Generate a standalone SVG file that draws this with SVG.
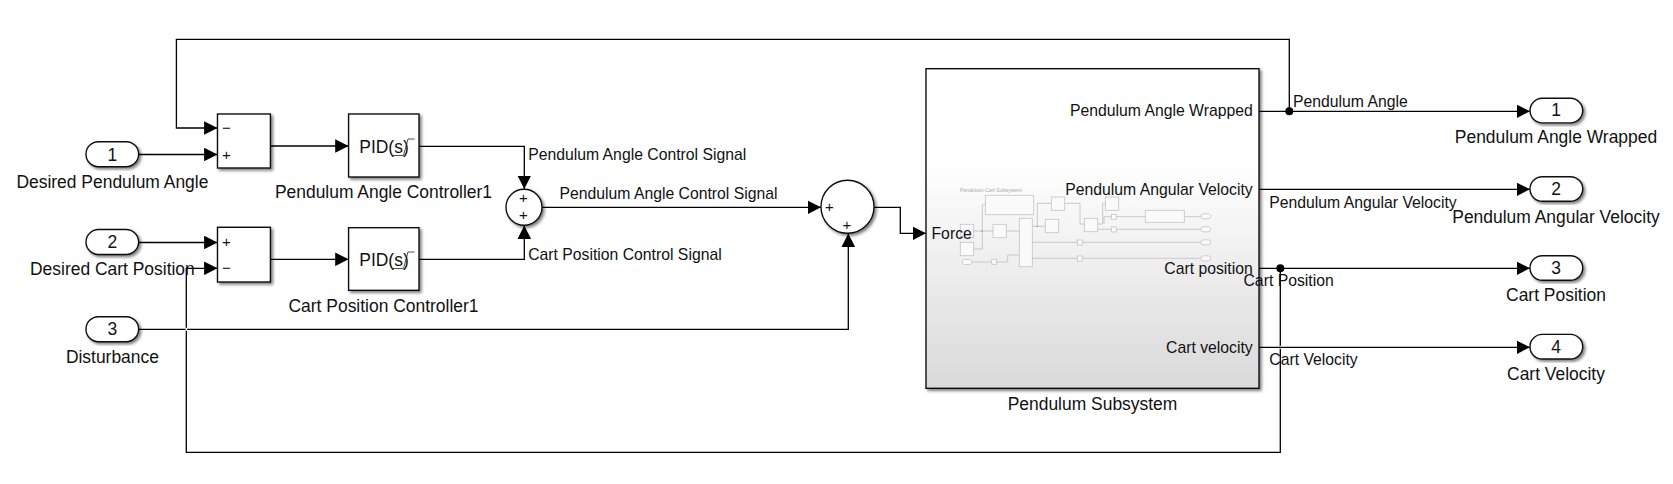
<svg xmlns="http://www.w3.org/2000/svg" width="1673" height="484" viewBox="0 0 1673 484">
<style>
text{font-family:"Liberation Sans",Arial,sans-serif;fill:#111}
.n{font-size:17.45px;text-anchor:middle}
.l{font-size:15.75px}
.e{font-size:15.75px;text-anchor:end}
.s{font-size:15px;text-anchor:middle}
.b{fill:#fff;stroke:#111;stroke-width:1.4;filter:url(#sh)}
.c{fill:none;stroke:#000;stroke-width:1.3}
.a{marker-end:url(#arr)}
.i{fill:none;stroke:#222;stroke-width:.8}
.t{fill:#fafafa;stroke:#c4c4c4;stroke-width:.8}
.tl{fill:none;stroke:#c4c4c4;stroke-width:.9}
.x{stroke:#fff;stroke-width:1.6;fill:none}
</style>
<defs>
<marker id="arr" markerUnits="userSpaceOnUse" markerWidth="14" markerHeight="14" refX="13.4" refY="7" orient="auto"><path d="M0 0.2L13.4 7L0 13.8Z" fill="#000"/></marker>
<filter id="sh" x="-10%" y="-10%" width="125%" height="125%"><feDropShadow dx="2" dy="2" stdDeviation="1.6" flood-color="#000" flood-opacity=".5"/></filter>
<linearGradient id="g" x1="0" y1="0" x2="0" y2="1"><stop offset="0.3" stop-color="#fff"/><stop offset="1" stop-color="#d9d9d9"/></linearGradient>
</defs>
<rect width="1673" height="484" fill="#fff"/>
<g id="connectors">
<path class="c a" d="M1289.3 111.3V39.3H176.4V128H217.5"/>
<path class="c a" d="M138.6 154.5H217.5"/>
<path class="c a" d="M138.6 242.5H217.5"/>
<path class="c a" d="M1280.3 268.3V452.3H186.3V268.3H217.5"/>
<path class="c a" d="M138.6 329.3H848.3V233.5"/>
<path class="x" d="M186.3 327.8V330.8M1280.3 345.8V348.8"/>
<path class="c a" d="M270.4 146H348.6"/>
<path class="c a" d="M270.4 259.3H348.6"/>
<path class="c a" d="M419 146.3H524.3V189"/>
<path class="c a" d="M419 259.3H524.3V225.5"/>
<path class="c a" d="M542 207.3H821"/>
<path class="c a" d="M874 207.3H900.3V233.3H926"/>
<path class="c a" d="M1259 111.3H1530"/>
<path class="c a" d="M1259 189.3H1530"/>
<path class="c a" d="M1259 268.3H1530"/>
<path class="c a" d="M1259 347.3H1530"/>
<circle cx="1289.3" cy="111.3" r="4" fill="#000"/>
<circle cx="1280.3" cy="268.3" r="4" fill="#000"/>
</g>
<g id="in1"><rect class="b" x="86" y="141.7" width="52.6" height="25" rx="12.5"/><text class="n" x="112.4" y="160.5">1</text><text class="n" x="112.4" y="187.7">Desired Pendulum Angle</text></g>
<g id="in2"><rect class="b" x="86" y="229.5" width="52.6" height="25" rx="12.5"/><text class="n" x="112.4" y="247.5">2</text><text class="n" x="112.4" y="275">Desired Cart Position</text></g>
<g id="in3"><rect class="b" x="86" y="316.7" width="52.6" height="25" rx="12.5"/><text class="n" x="112.4" y="335">3</text><text class="n" x="112.4" y="362.7">Disturbance</text></g>
<g id="sum1"><rect class="b" x="217.5" y="114" width="52.9" height="54"/><text class="s" x="226.5" y="133">−</text><text class="s" x="226.5" y="159.5">+</text></g>
<g id="sum2"><rect class="b" x="217.5" y="227.3" width="52.9" height="54.7"/><text class="s" x="226.5" y="247">+</text><text class="s" x="226.5" y="272.5">−</text></g>
<g id="pid1"><rect class="b" x="348.6" y="114" width="70.4" height="63"/><text class="n" x="384" y="153">PID(s)</text><path class="i" d="M414.5 139H408L403.5 155.5H392"/><text class="n" x="383.5" y="198">Pendulum Angle Controller1</text></g>
<g id="pid2"><rect class="b" x="348.6" y="227.7" width="70.4" height="62.6"/><text class="n" x="384" y="266">PID(s)</text><path class="i" d="M414.5 252H408L403.5 268.5H392"/><text class="n" x="383.5" y="312">Cart Position Controller1</text></g>
<g id="add1"><circle class="b" cx="524" cy="207.3" r="18"/><text class="s" x="523.5" y="203">+</text><text class="s" x="523.5" y="220">+</text></g>
<g id="add2"><circle class="b" cx="847.5" cy="206.8" r="26.5"/><text class="s" x="829.5" y="212">+</text><text class="s" x="847" y="230">+</text></g>
<g id="subsystem">
<rect class="b" x="926" y="68.7" width="333" height="319.6" style="fill:url(#g)"/>
<g id="thumbnail">
<text x="960" y="191.7" style="font-size:5.2px;fill:#aaa">Pendulum-Cart Subsystem</text>
<path class="tl" d="M973.7 231H993M1006.3 231H1019.3M973.7 249H982.3V204.7H985.3M1032.3 226.3H1045.3M1037.3 226.3V203.3H1051.3M1064.7 203.3H1080V224H1084.3M1097.7 224H1102.7V203.3H1105.3M1097.7 229.3H1111.3M1104 224V216.7H1111.3M1116.3 216.7H1145.3M1184.3 216.7H1201M1116.3 229.3H1201M1032.3 242.3H1077.3M1082.3 242.3H1201M1032.3 258.3H1077.3M1082.3 258.3H1201M972 262H991.7M996.7 262H1007.7V255H1019.3"/>
<circle cx="982" cy="231.3" r=".8" fill="#999"/><circle cx="1037.3" cy="226.3" r=".8" fill="#999"/>
<rect class="t" x="985.3" y="195.3" width="48.4" height="19.4"/>
<rect class="t" x="1051.3" y="197" width="13.4" height="13.3"/>
<rect class="t" x="1105.3" y="197" width="13.4" height="13.3"/>
<rect class="t" x="993" y="224.3" width="13.3" height="13.4"/>
<rect class="t" x="960.3" y="224.3" width="13.4" height="13.4"/>
<rect class="t" x="960.3" y="242.3" width="13.4" height="13.4"/>
<rect class="t" x="1019.3" y="218.3" width="13" height="48.4"/>
<rect class="t" x="1045.3" y="219.3" width="13.4" height="13.4"/>
<rect class="t" x="1084.3" y="218.3" width="13.4" height="13.4"/>
<rect class="t" x="1111.3" y="214.3" width="5" height="5"/>
<rect class="t" x="1111.3" y="227" width="5" height="5"/>
<rect class="t" x="1077.3" y="240" width="5" height="5"/>
<rect class="t" x="1077.3" y="256" width="5" height="5"/>
<rect class="t" x="991.7" y="259.3" width="5" height="5"/>
<rect class="t" x="1145.3" y="210.3" width="39" height="12"/>
<rect class="t" x="1201" y="213.8" width="9.7" height="5" rx="2.5"/>
<rect class="t" x="1201" y="226.8" width="9.7" height="5" rx="2.5"/>
<rect class="t" x="1201" y="239.8" width="9.7" height="5" rx="2.5"/>
<rect class="t" x="1201" y="255.8" width="9.7" height="5" rx="2.5"/>
<rect class="t" x="962" y="259.5" width="10" height="5" rx="2.5"/>
</g>
<text class="e" x="1252.7" y="116">Pendulum Angle Wrapped</text>
<text class="e" x="1252.7" y="195">Pendulum Angular Velocity</text>
<text class="l" x="931.5" y="239.3">Force</text>
<text class="e" x="1252.7" y="274">Cart position</text>
<text class="e" x="1252.7" y="353.3">Cart velocity</text>
<text class="n" x="1092.5" y="410">Pendulum Subsystem</text>
</g>
<g id="out1"><rect class="b" x="1530" y="98.3" width="52.7" height="24.6" rx="12.3"/><text class="n" x="1556" y="116.3">1</text><text class="n" x="1556" y="143.3">Pendulum Angle Wrapped</text></g>
<g id="out2"><rect class="b" x="1530" y="176.7" width="52.7" height="24.6" rx="12.3"/><text class="n" x="1556" y="195">2</text><text class="n" x="1556" y="222.7">Pendulum Angular Velocity</text></g>
<g id="out3"><rect class="b" x="1530" y="255.7" width="52.7" height="24.6" rx="12.3"/><text class="n" x="1556" y="274">3</text><text class="n" x="1556" y="300.7">Cart Position</text></g>
<g id="out4"><rect class="b" x="1530" y="334.4" width="52.7" height="24.6" rx="12.3"/><text class="n" x="1556" y="353.3">4</text><text class="n" x="1556" y="380">Cart Velocity</text></g>
<g id="connector-labels">
<text class="l" x="528.2" y="160">Pendulum Angle Control Signal</text>
<text class="l" x="559.5" y="198.7">Pendulum Angle Control Signal</text>
<text class="l" x="528.2" y="260">Cart Position Control Signal</text>
<text class="l" x="1293" y="106.7">Pendulum Angle</text>
<text class="l" x="1269.3" y="208">Pendulum Angular Velocity</text>
<text class="l" x="1243.5" y="286">Cart Position</text>
<text class="l" x="1269.3" y="365">Cart Velocity</text>
</g>
</svg>
